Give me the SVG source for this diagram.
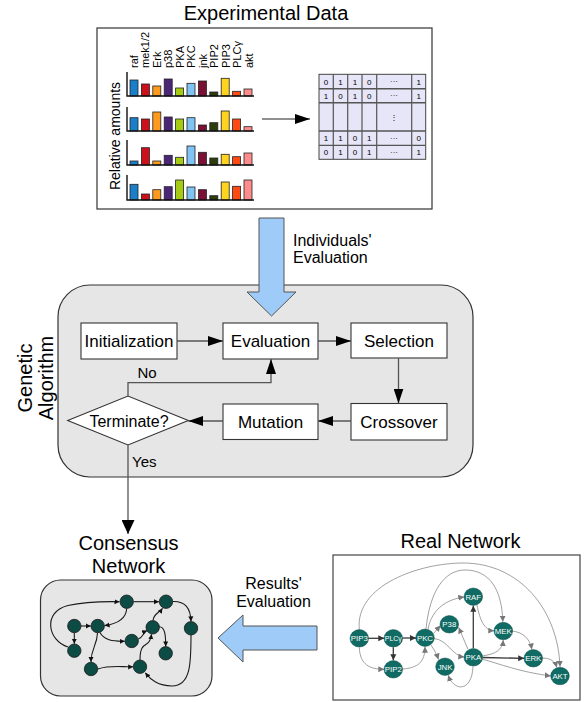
<svg xmlns="http://www.w3.org/2000/svg" width="587" height="702" viewBox="0 0 587 702">
  <style>
    text { font-family: "Liberation Sans", Arial, sans-serif; fill: #000; }
    .title { font-size: 20px; text-anchor: middle; }
    .lbl { font-size: 16px; }
    .box { fill: #fff; stroke: #333; stroke-width: 1.1; }
    .btxt { font-size: 17px; text-anchor: middle; }
    .flow { fill: none; stroke: #555; stroke-width: 1.3; }
    .bar { stroke: #222; stroke-width: 0.8; }
    .axis { fill: none; stroke: #111; stroke-width: 1.4; }
    .gene { font-size: 11px; }
    .mtx { font-size: 8px; text-anchor: middle; fill: #222; }
    .cn { fill: #0d4b45; stroke: #1a1a1a; stroke-width: 0.8; }
    .ce { fill: none; stroke: #1a1a1a; stroke-width: 1.1; marker-end: url(#cah); }
    .rn { fill: #0f6b64; stroke: #0a4d48; stroke-width: 0.5; }
    .rt { font-size: 7.8px; fill: #fff; text-anchor: middle; }
    .re { fill: none; stroke: #8a8a8a; stroke-width: 0.8; marker-end: url(#rah); }
    .rd { fill: none; stroke: #3a3a3a; stroke-width: 1.3; marker-end: url(#rahd); }
    .big { fill: #9ecbf7; stroke: #555; stroke-width: 1; }
  </style>
  <defs>
    <marker id="ah" markerUnits="userSpaceOnUse" markerWidth="16" markerHeight="10" refX="15" refY="5" orient="auto">
      <path d="M0,0 L15,5 L0,10 Z" fill="#000"/>
    </marker>
    <marker id="ahy" markerUnits="userSpaceOnUse" markerWidth="15" markerHeight="13" refX="14" refY="6.5" orient="auto">
      <path d="M0,0 L14,6.5 L0,13 Z" fill="#000"/>
    </marker>
    <marker id="cah" markerUnits="userSpaceOnUse" markerWidth="6" markerHeight="6" refX="5" refY="3" orient="auto">
      <path d="M0,0.5 L5,3 L0,5.5 Z" fill="#111"/>
    </marker>
    <marker id="rah" markerUnits="userSpaceOnUse" markerWidth="7" markerHeight="7" refX="6" refY="3.5" orient="auto">
      <path d="M0,0.5 L6,3.5 L0,6.5 Z" fill="#777"/>
    </marker>
    <marker id="rahd" markerUnits="userSpaceOnUse" markerWidth="7" markerHeight="7" refX="6" refY="3.5" orient="auto">
      <path d="M0,0.5 L6,3.5 L0,6.5 Z" fill="#333"/>
    </marker>
  </defs>

  <!-- Experimental data panel -->
  <g id="experimental-data">
    <text class="title" x="266" y="20">Experimental Data</text>
    <rect x="97" y="28" width="335" height="181" fill="#fff" stroke="#333" stroke-width="1.2"/>
    <text x="120" y="136" transform="rotate(-90 120 136)" style="font-size:14px;text-anchor:middle">Relative amounts</text>
    <g class="gene">
      <text transform="translate(137.5,68) rotate(-90)">raf</text>
      <text transform="translate(149,68) rotate(-90)">mek1/2</text>
      <text transform="translate(160.5,68) rotate(-90)">Erk</text>
      <text transform="translate(172,68) rotate(-90)">p38</text>
      <text transform="translate(183.5,68) rotate(-90)">PKA</text>
      <text transform="translate(195,68) rotate(-90)">PKC</text>
      <text transform="translate(206.5,68) rotate(-90)">jnk</text>
      <text transform="translate(218,68) rotate(-90)">PIP2</text>
      <text transform="translate(229.5,68) rotate(-90)">PIP3</text>
      <text transform="translate(241,68) rotate(-90)">PLCγ</text>
      <text transform="translate(252.5,68) rotate(-90)">akt</text>
    </g>
    <!-- chart 1, baseline 96 -->
    <g>
      <rect class="bar" x="130" y="80" width="8" height="16" fill="#1a7fc8"/>
      <rect class="bar" x="141.4" y="84" width="8" height="12" fill="#cc101c"/>
      <rect class="bar" x="152.8" y="86" width="8" height="10" fill="#ff9a1c"/>
      <rect class="bar" x="164.2" y="79" width="8" height="17" fill="#4b2677"/>
      <rect class="bar" x="175.6" y="88" width="8" height="8" fill="#a6cb14"/>
      <rect class="bar" x="187" y="83.3" width="8" height="12.7" fill="#80c4f6"/>
      <rect class="bar" x="198.4" y="81" width="8" height="15" fill="#7a1033"/>
      <rect class="bar" x="209.8" y="92" width="8" height="4" fill="#2c3d0e"/>
      <rect class="bar" x="221.2" y="78.3" width="8" height="17.7" fill="#ffd420"/>
      <rect class="bar" x="232.6" y="91.3" width="8" height="4.7" fill="#ff4a12"/>
      <rect class="bar" x="244" y="89" width="8" height="7" fill="#ff8c8c"/>
      <path class="axis" d="M127,72 V96 H254"/>
    </g>
    <!-- chart 2, baseline 131 -->
    <g>
      <rect class="bar" x="130" y="117.7" width="8" height="13.3" fill="#1a7fc8"/>
      <rect class="bar" x="141.4" y="119" width="8" height="12" fill="#cc101c"/>
      <rect class="bar" x="152.8" y="112" width="8" height="19" fill="#ff9a1c"/>
      <rect class="bar" x="164.2" y="117" width="8" height="14" fill="#4b2677"/>
      <rect class="bar" x="175.6" y="119" width="8" height="12" fill="#a6cb14"/>
      <rect class="bar" x="187" y="117.7" width="8" height="13.3" fill="#80c4f6"/>
      <rect class="bar" x="198.4" y="125" width="8" height="6" fill="#7a1033"/>
      <rect class="bar" x="209.8" y="122.7" width="8" height="8.3" fill="#2c3d0e"/>
      <rect class="bar" x="221.2" y="111" width="8" height="20" fill="#ffd420"/>
      <rect class="bar" x="232.6" y="119" width="8" height="12" fill="#ff4a12"/>
      <rect class="bar" x="244" y="126.7" width="8" height="4.3" fill="#ff8c8c"/>
      <path class="axis" d="M127,107 V131 H254"/>
    </g>
    <!-- chart 3, baseline 165 -->
    <g>
      <rect class="bar" x="130" y="161" width="8" height="4" fill="#1a7fc8"/>
      <rect class="bar" x="141.4" y="147.7" width="8" height="17.3" fill="#cc101c"/>
      <rect class="bar" x="152.8" y="161" width="8" height="4" fill="#ff9a1c"/>
      <rect class="bar" x="164.2" y="155.3" width="8" height="9.7" fill="#4b2677"/>
      <rect class="bar" x="175.6" y="157.3" width="8" height="7.7" fill="#a6cb14"/>
      <rect class="bar" x="187" y="146" width="8" height="19" fill="#80c4f6"/>
      <rect class="bar" x="198.4" y="152.3" width="8" height="12.7" fill="#7a1033"/>
      <rect class="bar" x="209.8" y="158" width="8" height="7" fill="#2c3d0e"/>
      <rect class="bar" x="221.2" y="154.3" width="8" height="10.7" fill="#ffd420"/>
      <rect class="bar" x="232.6" y="156.7" width="8" height="8.3" fill="#ff4a12"/>
      <rect class="bar" x="244" y="153" width="8" height="12" fill="#ff8c8c"/>
      <path class="axis" d="M127,140 V165 H254"/>
    </g>
    <!-- chart 4, baseline 200 -->
    <g>
      <rect class="bar" x="130" y="184.3" width="8" height="15.7" fill="#1a7fc8"/>
      <rect class="bar" x="141.4" y="194" width="8" height="6" fill="#cc101c"/>
      <rect class="bar" x="152.8" y="189.7" width="8" height="10.3" fill="#ff9a1c"/>
      <rect class="bar" x="164.2" y="186.7" width="8" height="13.3" fill="#4b2677"/>
      <rect class="bar" x="175.6" y="180" width="8" height="20" fill="#a6cb14"/>
      <rect class="bar" x="187" y="187" width="8" height="13" fill="#80c4f6"/>
      <rect class="bar" x="198.4" y="189.7" width="8" height="10.3" fill="#7a1033"/>
      <rect class="bar" x="209.8" y="195.7" width="8" height="4.3" fill="#2c3d0e"/>
      <rect class="bar" x="221.2" y="182" width="8" height="18" fill="#ffd420"/>
      <rect class="bar" x="232.6" y="186.3" width="8" height="13.7" fill="#ff4a12"/>
      <rect class="bar" x="244" y="180" width="8" height="20" fill="#ff8c8c"/>
      <path class="axis" d="M127,175 V200 H254"/>
    </g>
    <!-- binary matrix -->
    <g>
      <rect x="319" y="74.3" width="106.7" height="85" fill="#e6e6f8" stroke="#444" stroke-width="1"/>
      <g stroke="#555" stroke-width="1.2">
        <line x1="333.3" y1="74.3" x2="333.3" y2="159.3"/>
        <line x1="347.7" y1="74.3" x2="347.7" y2="159.3"/>
        <line x1="362" y1="74.3" x2="362" y2="159.3"/>
        <line x1="376.7" y1="74.3" x2="376.7" y2="159.3"/>
        <line x1="411.7" y1="74.3" x2="411.7" y2="159.3"/>
        <line x1="319" y1="88.7" x2="425.7" y2="88.7" stroke-width="1.6"/>
        <line x1="319" y1="102.7" x2="425.7" y2="102.7" stroke-width="1.6"/>
        <line x1="319" y1="131" x2="425.7" y2="131" stroke-width="1.6"/>
        <line x1="319" y1="145.3" x2="425.7" y2="145.3"/>
      </g>
      <g class="mtx">
        <text x="326" y="84.5">0</text><text x="340.5" y="84.5">1</text><text x="355" y="84.5">1</text><text x="369.3" y="84.5">0</text><text x="394" y="84">···</text><text x="418.7" y="84.5">1</text>
        <text x="326" y="98.7">1</text><text x="340.5" y="98.7">0</text><text x="355" y="98.7">1</text><text x="369.3" y="98.7">0</text><text x="394" y="98.2">···</text><text x="418.7" y="98.7">1</text>
        <text x="394" y="119.5">⋮</text>
        <text x="326" y="141">1</text><text x="340.5" y="141">1</text><text x="355" y="141">0</text><text x="369.3" y="141">1</text><text x="394" y="140.5">···</text><text x="418.7" y="141">0</text>
        <text x="326" y="155.3">0</text><text x="340.5" y="155.3">1</text><text x="355" y="155.3">0</text><text x="369.3" y="155.3">1</text><text x="394" y="154.8">···</text><text x="418.7" y="155.3">1</text>
      </g>
    </g>
  </g>

  <!-- Genetic algorithm panel -->
  <g id="genetic-algorithm">
    <rect x="58" y="285" width="415" height="192" rx="32" fill="#e6e6e6" stroke="#333" stroke-width="1.2"/>
    <text transform="translate(32,378) rotate(-90)" style="font-size:20px;text-anchor:middle">Genetic</text>
    <text transform="translate(53,378) rotate(-90)" style="font-size:20px;text-anchor:middle">Algorithm</text>
  </g>

  <!-- evaluation inputs (wide arrows) -->
  <g id="individuals-evaluation">
    <polygon class="big" points="259,218 284,218 284,292 296,292 271.5,316 247,292 259,292"/>
    <text class="lbl" x="293" y="246">Individuals'</text>
    <text class="lbl" x="293" y="263">Evaluation</text>
  </g>

  <g id="node-initialization">
    <rect class="box" x="81" y="323" width="96" height="36"/>
    <text class="btxt" x="129" y="347">Initialization</text>
  </g>
  <g id="node-evaluation">
    <rect class="box" x="223" y="323" width="95" height="36"/>
    <text class="btxt" x="270.5" y="347">Evaluation</text>
  </g>
  <g id="node-selection">
    <rect class="box" x="351" y="323" width="96" height="35"/>
    <text class="btxt" x="399" y="346.5">Selection</text>
  </g>
  <g id="node-crossover">
    <rect class="box" x="351" y="403.5" width="96" height="36.5"/>
    <text class="btxt" x="399" y="428">Crossover</text>
  </g>
  <g id="node-mutation">
    <rect class="box" x="223" y="404" width="95" height="35.5"/>
    <text class="btxt" x="270.5" y="428">Mutation</text>
  </g>
  <g id="node-terminate">
    <polygon points="67.7,420.5 128,396 188.3,420.5 128,445" fill="#fff" stroke="#333" stroke-width="1.1"/>
    <text x="129" y="426.5" style="font-size:16px;text-anchor:middle">Terminate?</text>
  </g>

  <g id="connectors">
    <line class="flow" x1="177" y1="341" x2="223" y2="341" marker-end="url(#ah)"/>
    <line class="flow" x1="318" y1="341" x2="351" y2="341" marker-end="url(#ah)"/>
    <line class="flow" x1="398.5" y1="358" x2="398.5" y2="403.5" marker-end="url(#ah)"/>
    <line class="flow" x1="351" y1="421" x2="318" y2="421" marker-end="url(#ah)"/>
    <line class="flow" x1="223" y1="421" x2="188.3" y2="421" marker-end="url(#ah)"/>
    <path class="flow" d="M128,396 V382.7 H271 V359" marker-end="url(#ah)"/>
    <text x="147" y="377.5" style="font-size:15px;text-anchor:middle">No</text>
    <line class="flow" x1="128" y1="445" x2="128" y2="534" marker-end="url(#ahy)"/>
    <text x="132" y="466.5" style="font-size:15px">Yes</text>
    <line x1="262" y1="119" x2="310" y2="119" stroke="#222" stroke-width="1.2" marker-end="url(#ah)"/>
  </g>

  <!-- Consensus network -->
  <g id="consensus-network">
    <text class="title" x="128.5" y="550">Consensus</text>
    <text class="title" x="128.5" y="573">Network</text>
    <rect x="40.5" y="580" width="171.5" height="116" rx="20" fill="#e6e6e6" stroke="#333" stroke-width="1.2"/>
    <g>
      <path class="ce" d="M68,647 C48,641 42,612 68,605.5 C88,601 105,601.5 119.5,601.7"/>
      <path class="ce" d="M133.5,601.7 L159,601.7"/>
      <path class="ce" d="M126.7,608.5 C126,620 116,624 104.6,625.6"/>
      <path class="ce" d="M81,626 L90.8,626"/>
      <path class="ce" d="M74.3,632.8 L74.3,643.8"/>
      <path class="ce" d="M100,632.5 C104,640 112,641.5 124.8,641.2"/>
      <path class="ce" d="M97.5,633 C97,646 91,648 91,662"/>
      <path class="ce" d="M172.8,601.5 C185,601 190.5,608 191,621.4"/>
      <path class="ce" d="M138.3,639 C143.5,637 143.5,632 147,630.5"/>
      <path class="ce" d="M153,620.5 C154,613 159,613.5 162.5,608.3"/>
      <path class="ce" d="M159.2,626.8 C165,627 165.7,635 165.7,646.4"/>
      <path class="ce" d="M97.8,669 C110,665 120,667 133.2,666.8"/>
      <path class="ce" d="M140,660 C140,648 143,646 146.5,644 C150,642 151,638 151.5,634.2"/>
      <path class="ce" d="M191,635 C191,662 191,686 172,686 C158,686 151,680 145.3,672.8"/>
    </g>
    <circle class="cn" cx="126.7" cy="601.7" r="6.7"/>
    <circle class="cn" cx="166" cy="601.7" r="6.7"/>
    <circle class="cn" cx="74.3" cy="626" r="6.7"/>
    <circle class="cn" cx="97.7" cy="626" r="6.7"/>
    <circle class="cn" cx="191" cy="628.3" r="6.7"/>
    <circle class="cn" cx="152.7" cy="627.3" r="6.7"/>
    <circle class="cn" cx="74.3" cy="650.7" r="6.7"/>
    <circle class="cn" cx="131.7" cy="641" r="6.7"/>
    <circle class="cn" cx="165.7" cy="653.3" r="6.7"/>
    <circle class="cn" cx="91" cy="669" r="6.7"/>
    <circle class="cn" cx="140" cy="666.7" r="6.7"/>
  </g>

  <g id="results-evaluation">
    <polygon class="big" points="218,638 243,615 243,626 317,626 317,650 243,650 243,662"/>
    <text class="lbl" x="273.5" y="589" text-anchor="middle">Results'</text>
    <text class="lbl" x="273.5" y="607" text-anchor="middle">Evaluation</text>
  </g>

  <!-- Real (reference) signalling network -->
  <g id="real-network">
    <text class="title" x="460.5" y="548">Real Network</text>
    <rect x="333" y="555" width="247" height="145" fill="#fff" stroke="#444" stroke-width="1.2"/>
    <g>
      <path class="re" d="M359.3,629.3 C355,585 420,563 463,563 C520,563 558,610 560,666.8"/>
      <path class="re" d="M426,628.8 C430,590 445,570 465,570 C490,570 502,590 502.8,621.8"/>
      <path class="re" d="M428,629 C432,608 448,599 464.3,597"/>
      <path class="re" d="M433.5,633.5 L440.5,625.5"/>
      <path class="re" d="M431,645 C435,651 437,655 438.5,659.5"/>
      <path class="re" d="M434,638.5 C448,640 452,656 464.3,657"/>
      <path class="re" d="M468,649.3 L458.7,627.5"/>
      <path class="re" d="M477,605 C480,620 484,630.5 494.3,630.8"/>
      <path class="re" d="M482,656 C496,654 502.5,650 503.2,640"/>
      <path class="re" d="M482,659 C500,664 520,672 550.8,676"/>
      <path class="re" d="M473,666.5 C472,692 454,692 448.2,675.2"/>
      <path class="re" d="M512,631 C522,632 530,638 531.8,649.4"/>
      <path class="re" d="M542.3,658 C550,658 555,661 556.8,667.4"/>
      <path class="re" d="M359.3,647.5 C360,665 370,669.3 384.3,669.3"/>
      <path class="re" d="M402.5,669 C418,668 425,662 425,646.7"/>
      <path class="rd" d="M368.5,638.3 L384.3,638.3"/>
      <path class="rd" d="M402.5,638 L416,638"/>
      <path class="rd" d="M393.3,647.3 L393.3,660.3"/>
      <path class="rd" d="M473.3,648.3 L473.3,605.8"/>
      <path class="rd" d="M482.5,657.5 L524.2,658.3"/>
    </g>
    <g>
      <ellipse class="rn" cx="359.3" cy="638.3" rx="9.3" ry="8.7"/><text class="rt" x="359.3" y="641.1">PIP3</text>
      <ellipse class="rn" cx="393.3" cy="638.3" rx="9.3" ry="8.7"/><text class="rt" x="393.3" y="641" style="font-size:7px">PLCγ</text>
      <ellipse class="rn" cx="393.3" cy="669.3" rx="9.3" ry="8.7"/><text class="rt" x="393.3" y="672.1">PIP2</text>
      <ellipse class="rn" cx="425" cy="637.7" rx="9.3" ry="8.7"/><text class="rt" x="425" y="640.5">PKC</text>
      <ellipse class="rn" cx="449.3" cy="624.3" rx="9.3" ry="8.7"/><text class="rt" x="449.3" y="627.1">P38</text>
      <ellipse class="rn" cx="473.3" cy="596.7" rx="9.3" ry="8.7"/><text class="rt" x="473.3" y="599.5">RAF</text>
      <ellipse class="rn" cx="503.3" cy="631" rx="9.3" ry="8.7"/><text class="rt" x="503.3" y="633.8">MEK</text>
      <ellipse class="rn" cx="473.3" cy="657.3" rx="9.3" ry="8.7"/><text class="rt" x="473.3" y="660.1">PKA</text>
      <ellipse class="rn" cx="445" cy="666.7" rx="9.3" ry="8.7"/><text class="rt" x="445" y="669.5">JNK</text>
      <ellipse class="rn" cx="533.3" cy="658.3" rx="9.3" ry="8.7"/><text class="rt" x="533.3" y="661.1">ERK</text>
      <ellipse class="rn" cx="560" cy="676" rx="9.3" ry="8.7"/><text class="rt" x="560" y="678.8">AKT</text>
    </g>
  </g>
</svg>
